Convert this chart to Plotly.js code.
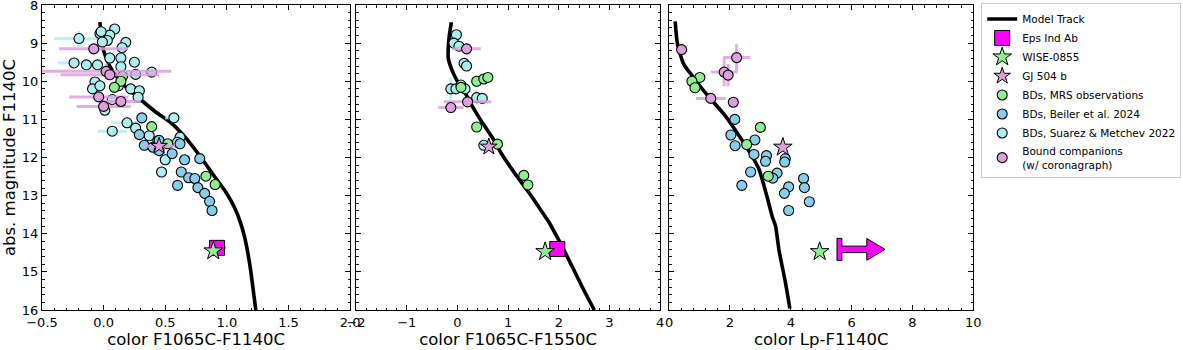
<!DOCTYPE html>
<html>
<head>
<meta charset="utf-8">
<script src="https://cdn.plot.ly/plotly-3.0.1.min.js"></script>
<style>html,body{margin:0;padding:0;background:#fff;}#chart{width:1183px;height:350px;}</style>
</head>
<body>
<div id="chart"></div>
<script>
// ---------------- DATA ----------------
// Model tracks
const track1X = [-0.03, -0.02, 0.0, 0.05, 0.11, 0.18, 0.27, 0.42, 0.55, 0.67, 0.79, 0.90, 0.99, 1.06, 1.11, 1.145, 1.17, 1.195, 1.215, 1.235];
const track1Y = [8.45, 8.8, 9.2, 9.6, 9.9, 10.15, 10.4, 10.8, 11.1, 11.5, 12.0, 12.5, 12.9, 13.3, 13.7, 14.1, 14.5, 15.0, 15.5, 16.0];
const track2X = [-0.12, -0.16, -0.18, -0.18, -0.11, 0.0, 0.15, 0.27, 0.45, 0.70, 0.87, 1.15, 1.40, 1.64, 1.82, 1.96, 2.10, 2.23, 2.36, 2.49, 2.70];
const track2Y = [8.45, 8.8, 9.1, 9.4, 9.7, 10.0, 10.3, 10.6, 11.0, 11.5, 11.9, 12.45, 12.9, 13.37, 13.73, 14.07, 14.42, 14.77, 15.12, 15.47, 16.0];
const track3X = [0.20, 0.27, 0.48, 0.77, 1.25, 1.81, 2.19, 2.73, 2.95, 3.22, 3.39, 3.50, 3.61, 3.83, 3.97];
const track3Y = [8.43, 9.0, 9.55, 9.87, 10.36, 10.87, 11.30, 11.97, 12.3, 13.03, 13.55, 13.8, 14.42, 15.3, 15.96];

// Panel 1: color F1065C-F1140C
const p1SuarezX = [-0.20, -0.03, 0.09, 0.05, 0.03, 0.18, 0.15, -0.01, -0.02, -0.24, -0.14, -0.05, 0.05, 0.14, 0.25, 0.14, 0.26, 0.39, -0.07, -0.09, -0.03, 0.22, 0.29, 0.28, 0.01, 0.57, 0.19, 0.07, 0.26, 0.37, 0.62, 0.60, 0.50, 0.47, 0.12, 0.07, 0.44];
const p1SuarezY = [8.88, 8.75, 8.63, 8.79, 8.93, 8.98, 9.12, 8.97, 8.70, 9.52, 9.57, 9.57, 9.39, 9.39, 9.50, 9.62, 9.82, 9.76, 10.02, 10.20, 10.12, 10.20, 10.25, 10.42, 10.76, 10.96, 11.09, 11.31, 11.23, 11.43, 11.47, 11.60, 12.06, 12.38, 10.12, 10.48, 11.56];
const p1SuarezXerr = [0.20, 0, 0, 0, 0, 0, 0, 0, 0, 0.13, 0, 0, 0, 0, 0, 0, 0, 0, 0, 0, 0, 0, 0, 0, 0, 0.07, 0.13, 0.12, 0, 0, 0, 0, 0, 0, 0, 0, 0];
const p1SuarezYerr = [0.2, 0, 0, 0, 0, 0, 0, 0, 0, 0, 0, 0, 0.15, 0, 0, 0, 0, 0, 0, 0, 0, 0, 0, 0, 0, 0.05, 0.15, 0, 0, 0, 0, 0, 0, 0, 0, 0, 0];
const p1BeilerX = [0.31, 0.29, 0.33, 0.40, 0.45, 0.556, 0.657, 0.78, 0.63, 0.69, 0.74, 0.60, 0.765, 0.82, 0.86, 0.88, 0.62, 0.45];
const p1BeilerY = [10.96, 11.40, 11.68, 11.73, 11.82, 11.90, 12.06, 12.03, 12.38, 12.53, 12.55, 12.73, 12.79, 12.94, 13.15, 13.39, 11.64, 11.55];
const p1MrsX = [0.154, 0.14, 0.087, 0.39, 0.52, 0.83, 0.905];
const p1MrsY = [9.87, 10.0, 10.16, 11.19, 11.64, 12.49, 12.71];
const p1BoundX = [-0.08, 0.02, 0.05, -0.04, 0.0, 0.14];
const p1BoundY = [9.15, 9.74, 9.83, 10.41, 10.66, 10.53];
const p1BoundXerr = [0.28, 0.53, 0.40, 0.24, 0.22, 0.16];
const p1BoundYerr = [0, 0.2, 0, 0, 0, 0];
const p1Gj504X = [0.45], p1Gj504Y = [11.70], p1Gj504Xerr = [0.13];
const p1EpsX = [0.92], p1EpsY = [14.37], p1EpsXerr = [0.07];
const p1WiseX = [0.89], p1WiseY = [14.45];

// Panel 2: color F1065C-F1550C
const p2SuarezX = [-0.02, -0.07, 0.03, 0.13, 0.18, -0.13, -0.03, 0.07, 0.15, 0.38, 0.49, 0.52];
const p2SuarezY = [8.78, 9.00, 9.08, 9.53, 9.60, 10.20, 10.20, 10.10, 10.20, 10.43, 10.45, 11.68];
const p2SuarezYerr = [0, 0, 0, 0, 0, 0.30, 0, 0, 0, 0.20, 0, 0];
const p2MrsX = [0.38, 0.52, 0.60, 0.07, 0.38, 0.79, 1.31, 1.39];
const p2MrsY = [10.00, 9.94, 9.90, 10.16, 11.20, 11.65, 12.47, 12.72];
const p2BoundX = [0.18, 0.20, -0.13];
const p2BoundY = [9.15, 10.54, 10.69];
const p2BoundXerr = [0.28, 0.47, 0.25];
const p2Gj504X = [0.62], p2Gj504Y = [11.72];
const p2EpsX = [1.97], p2EpsY = [14.40];
const p2WiseX = [1.73], p2WiseY = [14.47];

// Panel 3: color Lp-F1140C
const p3BeilerX = [2.16, 2.03, 2.82, 2.17, 2.79, 3.20, 3.17, 3.82, 3.80, 2.68, 3.55, 3.41, 4.42, 4.45, 3.93, 3.79, 2.39, 4.61, 3.93];
const p3BeilerY = [11.00, 11.41, 11.54, 11.69, 11.92, 11.95, 12.10, 12.03, 12.12, 12.38, 12.41, 12.54, 12.55, 12.79, 12.77, 12.94, 12.73, 13.16, 13.39];
const p3MrsX = [1.01, 0.75, 0.85, 3.00, 2.55, 3.26];
const p3MrsY = [9.90, 10.00, 10.17, 11.21, 11.66, 12.49];
const p3BoundX = [0.41, 2.22, 1.81, 1.94, 1.37, 2.11];
const p3BoundY = [9.17, 9.38, 9.76, 9.84, 10.45, 10.55];
const p3BoundXerr = [0.10, 0.44, 0.44, 0.15, 0.49, 0];
const p3BoundYerr = [0.15, 0.35, 0.37, 0.30, 0, 0];
const p3Gj504X = [3.74], p3Gj504Y = [11.73];
const p3WiseX = [4.95], p3WiseY = [14.47];
const p3EpsLowerLimitX = 5.6, p3EpsY = 14.41;   // Eps Ind Ab: lower limit in Lp-F1140C

const xTitles = ['color F1065C-F1140C', 'color F1065C-F1550C', 'color Lp-F1140C'];
const yTitle = 'abs. magnitude F1140C';
const legendNames = ['Model Track', 'Eps Ind Ab', 'WISE-0855', 'GJ 504 b', 'BDs, MRS observations', 'BDs, Beiler et al. 2024', 'BDs, Suarez &amp; Metchev 2022', 'Bound companions<br>(w/ coronagraph)'];

// ---------------- STYLE ----------------
const C = {
  suarez: '#afeeee', beiler: '#87ceeb', mrs: '#90ee90', bound: '#dda0dd', eps: '#ff00ff',
  suarezErr: 'rgba(175,238,238,0.85)', boundErr: 'rgba(221,160,221,0.85)', epsErr: '#ff00ff'
};
const FONT = '"DejaVu Sans", "Liberation Sans", sans-serif';
const circ = (color) => ({symbol: 'circle', size: 10, color: color, line: {color: 'black', width: 1.1}});
const errX = (arr, color) => ({type: 'data', array: arr, visible: true, color: color, thickness: 3, width: 0});

const traces = [];
const axes = [['x', 'y'], ['x2', 'y2'], ['x3', 'y3']];
function add(t, p) { t.xaxis = axes[p][0]; t.yaxis = axes[p][1]; traces.push(t); }

// tracks
[[track1X, track1Y], [track2X, track2Y], [track3X, track3Y]].forEach((tr, i) => {
  add({type: 'scatter', mode: 'lines', x: tr[0], y: tr[1], line: {color: 'black', width: 3.6, shape: 'spline', smoothing: 0.6},
       name: legendNames[0], legendgroup: 'track', showlegend: i === 0, legendrank: 1, hoverinfo: 'skip'}, i);
});

// Suarez
add({type: 'scatter', mode: 'markers', x: p1SuarezX, y: p1SuarezY, marker: circ(C.suarez),
     error_x: errX(p1SuarezXerr, C.suarezErr), error_y: errX(p1SuarezYerr, C.suarezErr),
     name: legendNames[6], legendgroup: 'suarez', showlegend: true, legendrank: 7}, 0);
add({type: 'scatter', mode: 'markers', x: p2SuarezX, y: p2SuarezY, marker: circ(C.suarez),
     error_y: errX(p2SuarezYerr, C.suarezErr), name: legendNames[6], legendgroup: 'suarez', showlegend: false}, 1);

// Beiler
add({type: 'scatter', mode: 'markers', x: p1BeilerX, y: p1BeilerY, marker: circ(C.beiler),
     name: legendNames[5], legendgroup: 'beiler', showlegend: true, legendrank: 6}, 0);
add({type: 'scatter', mode: 'markers', x: p3BeilerX, y: p3BeilerY, marker: circ(C.beiler),
     name: legendNames[5], legendgroup: 'beiler', showlegend: false}, 2);

// MRS
add({type: 'scatter', mode: 'markers', x: p1MrsX, y: p1MrsY, marker: circ(C.mrs),
     name: legendNames[4], legendgroup: 'mrs', showlegend: true, legendrank: 5}, 0);
add({type: 'scatter', mode: 'markers', x: p2MrsX, y: p2MrsY, marker: circ(C.mrs),
     name: legendNames[4], legendgroup: 'mrs', showlegend: false}, 1);
add({type: 'scatter', mode: 'markers', x: p3MrsX, y: p3MrsY, marker: circ(C.mrs),
     name: legendNames[4], legendgroup: 'mrs', showlegend: false}, 2);

// Bound companions
add({type: 'scatter', mode: 'markers', x: p1BoundX, y: p1BoundY, marker: circ(C.bound),
     error_x: errX(p1BoundXerr, C.boundErr), error_y: errX(p1BoundYerr, C.boundErr),
     name: legendNames[7], legendgroup: 'bound', showlegend: true, legendrank: 8}, 0);
add({type: 'scatter', mode: 'markers', x: p2BoundX, y: p2BoundY, marker: circ(C.bound),
     error_x: errX(p2BoundXerr, C.boundErr), name: legendNames[7], legendgroup: 'bound', showlegend: false}, 1);
add({type: 'scatter', mode: 'markers', x: p3BoundX, y: p3BoundY, marker: circ(C.bound),
     error_x: errX(p3BoundXerr, C.boundErr), error_y: errX(p3BoundYerr, C.boundErr),
     name: legendNames[7], legendgroup: 'bound', showlegend: false}, 2);

// GJ 504 b
const star = (color, size) => ({symbol: 'star', size: size, color: color, line: {color: 'black', width: 1}});
add({type: 'scatter', mode: 'markers', x: p1Gj504X, y: p1Gj504Y, marker: star(C.bound, 12.5),
     error_x: errX(p1Gj504Xerr, C.boundErr), name: legendNames[3], legendgroup: 'gj', showlegend: true, legendrank: 4}, 0);
add({type: 'scatter', mode: 'markers', x: p2Gj504X, y: p2Gj504Y, marker: star(C.bound, 12.5),
     name: legendNames[3], legendgroup: 'gj', showlegend: false}, 1);
add({type: 'scatter', mode: 'markers', x: p3Gj504X, y: p3Gj504Y, marker: star(C.bound, 14),
     name: legendNames[3], legendgroup: 'gj', showlegend: false}, 2);

// Eps Ind Ab
const sq = {symbol: 'square', size: 15, color: C.eps, line: {color: 'black', width: 1}};
add({type: 'scatter', mode: 'markers', x: p1EpsX, y: p1EpsY, marker: sq, error_x: errX(p1EpsXerr, C.epsErr),
     name: legendNames[1], legendgroup: 'eps', showlegend: true, legendrank: 2}, 0);
add({type: 'scatter', mode: 'markers', x: p2EpsX, y: p2EpsY, marker: sq,
     name: legendNames[1], legendgroup: 'eps', showlegend: false}, 1);
// lower-limit arrow for Eps Ind Ab in panel 3 (shape dimensions in data units)
(function () {
  const bw = 0.08, bh = 0.29, sh = 0.085, shaftLen = 0.9, headLen = 0.6, hh = 0.285;
  const x0 = p3EpsLowerLimitX, y0 = p3EpsY;
  const xs = [x0 - bw, x0 + bw, x0 + bw, x0 + shaftLen, x0 + shaftLen, x0 + shaftLen + headLen, x0 + shaftLen, x0 + shaftLen, x0 + bw, x0 + bw, x0 - bw, x0 - bw];
  const ys = [y0 - bh, y0 - bh, y0 - sh, y0 - sh, y0 - hh, y0, y0 + hh, y0 + sh, y0 + sh, y0 + bh, y0 + bh, y0 - bh];
  add({type: 'scatter', mode: 'lines', x: xs, y: ys, fill: 'toself', fillcolor: C.eps,
       line: {color: 'black', width: 1}, name: legendNames[1], legendgroup: 'eps', showlegend: false, hoverinfo: 'skip'}, 2);
})();

// WISE-0855
add({type: 'scatter', mode: 'markers', x: p1WiseX, y: p1WiseY, marker: star(C.mrs, 14),
     name: legendNames[2], legendgroup: 'wise', showlegend: true, legendrank: 3}, 0);
add({type: 'scatter', mode: 'markers', x: p2WiseX, y: p2WiseY, marker: star(C.mrs, 14),
     name: legendNames[2], legendgroup: 'wise', showlegend: false}, 1);
add({type: 'scatter', mode: 'markers', x: p3WiseX, y: p3WiseY, marker: star(C.mrs, 14),
     name: legendNames[2], legendgroup: 'wise', showlegend: false}, 2);

// ---------------- LAYOUT ----------------
const W = 1183, H = 350, ML = 42, MR = 2, MT = 5, MB = 40;
const PW = W - ML - MR;
const dom = (a, b) => [(a - ML) / PW, (b - ML) / PW];

function xax(d, range, dtick, minor, fmt, title) {
  return {
    domain: d, range: range, dtick: dtick, tick0: range[0], tickformat: fmt,
    showline: true, linecolor: 'black', linewidth: 1.2, mirror: 'ticks',
    ticks: 'inside', ticklen: 5, tickwidth: 1.1, tickcolor: 'black',
    minor: {ticks: 'inside', ticklen: 2.5, tickwidth: 0.9, tickcolor: 'black', dtick: minor, showgrid: false},
    showgrid: false, zeroline: false, fixedrange: true, ticklabeloverflow: 'allow',
    tickfont: {family: FONT, size: 13, color: 'black'},
    title: {text: title, font: {family: FONT, size: 16.5, color: 'black'}, standoff: 2}
  };
}
function yax(anchor, labels) {
  return {
    anchor: anchor, range: [16, 8], dtick: 1, tick0: 8,
    showline: true, linecolor: 'black', linewidth: 1.2, mirror: 'ticks',
    ticks: 'inside', ticklen: 5, tickwidth: 1.1, tickcolor: 'black',
    minor: {ticks: 'inside', ticklen: 2.5, tickwidth: 0.9, tickcolor: 'black', dtick: 0.2, showgrid: false},
    showgrid: false, zeroline: false, fixedrange: true, showticklabels: labels, ticklabeloverflow: 'allow',
    tickfont: {family: FONT, size: 13, color: 'black'},
    title: labels ? {text: yTitle, font: {family: FONT, size: 16.5, color: 'black'}, standoff: 4} : {text: ''}
  };
}

const layout = {
  width: W, height: H,
  margin: {l: ML, r: MR, t: MT, b: MB, pad: 0},
  paper_bgcolor: 'white', plot_bgcolor: 'white',
  font: {family: FONT, color: 'black'},
  xaxis: Object.assign(xax(dom(42, 352), [-0.5, 2.0], 0.5, 0.1, '.1f', xTitles[0]), {anchor: 'y'}),
  xaxis2: Object.assign(xax(dom(358, 664), [-2, 4], 1, 0.2, 'd', xTitles[1]), {anchor: 'y2'}),
  xaxis3: Object.assign(xax(dom(673, 979), [0, 10], 2, 0.4, 'd', xTitles[2]), {anchor: 'y3'}),
  yaxis: yax('x', true),
  yaxis2: yax('x2', false),
  yaxis3: yax('x3', false),
  showlegend: true,
  legend: {
    x: (987 - ML) / PW, xanchor: 'left', y: 1.005, yanchor: 'top',
    bgcolor: 'white', bordercolor: '#cccccc', borderwidth: 1,
    font: {family: FONT, size: 10.5, color: 'black'},
    traceorder: 'normal', itemsizing: 'trace', tracegroupgap: 0, itemwidth: 30
  },
  hovermode: false
};

Plotly.newPlot('chart', traces, layout, {staticPlot: true, displayModeBar: false});
</script>
</body>
</html>
